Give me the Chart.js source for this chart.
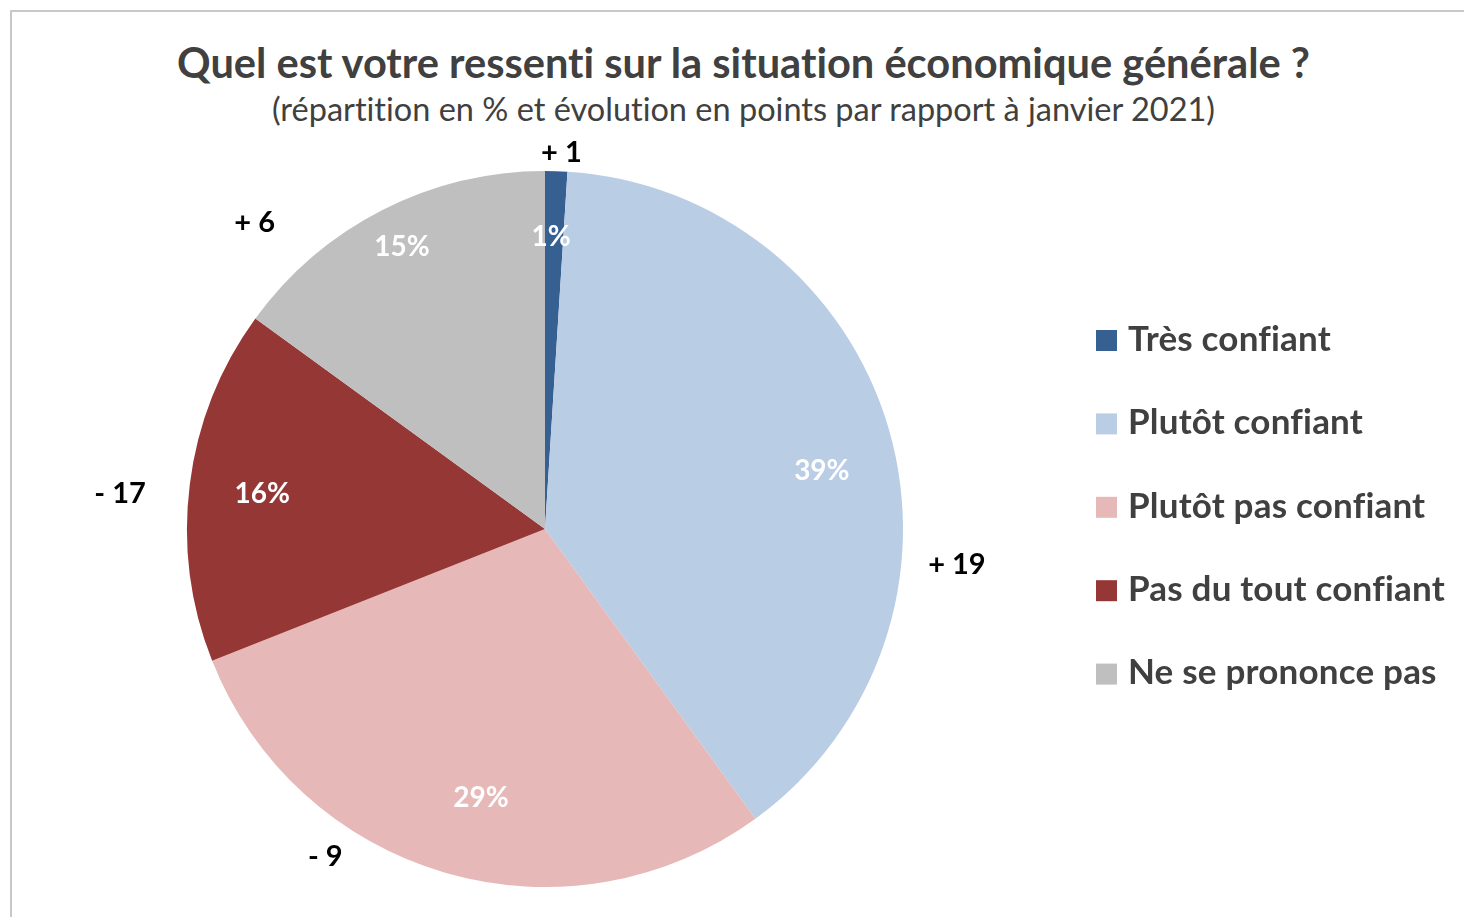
<!DOCTYPE html>
<html lang="fr">
<head>
<meta charset="utf-8">
<script src="https://cdn.jsdelivr.net/npm/chart.js@4.4.1/dist/chart.umd.min.js"></script>
<style>
  html, body { margin: 0; padding: 0; background: #fff; }
  body { width: 1464px; height: 917px; position: relative; overflow: hidden; font-family: Lato, 'Open Sans', sans-serif; }
  #frame { position: absolute; left: 10px; top: 10px; right: -4px; bottom: -4px; border-top: 2px solid #c8c8c8; border-left: 2px solid #c8c8c8; }
  .ttl { position: absolute; left: 0; width: 1487px; text-align: center; color: #404040; line-height: 1.2; white-space: nowrap; font-variant-ligatures: none; }
  #title { top: 38px; font-size: 41.6px; font-weight: 700; }
  #subtitle { top: 89px; font-size: 32.5px; font-weight: 400; }
  #wrap { position: absolute; left: 0; top: 0; width: 1464px; height: 917px; }
</style>
</head>
<body>
<div id="frame"></div>
<div class="ttl" id="title">Quel est votre ressenti sur la situation économique générale ?</div>
<div class="ttl" id="subtitle">(répartition en % et évolution en points par rapport à janvier 2021)</div>
<div id="wrap"><canvas id="pie"></canvas></div>
<script>
'use strict';

const categories  = ['Très confiant', 'Plutôt confiant', 'Plutôt pas confiant', 'Pas du tout confiant', 'Ne se prononce pas'];
const shares      = [1, 39, 29, 16, 15];          // % of answers
const changes     = [1, 19, -9, -17, 6];          // points vs janvier 2021
const sliceColors = ['#376092', '#b9cde5', '#e6b9b8', '#953735', '#bfbfbf'];

// label placement around each slice: [angle shift in degrees from slice middle, radius factor]
const pctPlace    = [[-0.6, 0.816], [4.4, 0.79], [-2.8, 0.771], [-0.2, 0.796], [0.1, 0.883]];
const changePlace = [[0.7, 1.051], [21.2, 1.155], [17.6, 1.103], [-2.5, 1.191], [-16.5, 1.178]];

const FONT = 'Lato, "Open Sans", sans-serif';
const fmtChange = v => (v >= 0 ? '+ ' : '- ') + Math.abs(v);

const pieLabels = {
    id: 'pieLabels',
    afterDatasetsDraw(chart) {
        const { ctx } = chart;
        const meta = chart.getDatasetMeta(0);
        ctx.save();
        ctx.textAlign = 'center';
        ctx.textBaseline = 'middle';
        meta.data.forEach((arc, i) => {
            const { x, y, startAngle, endAngle, outerRadius } =
                arc.getProps(['x', 'y', 'startAngle', 'endAngle', 'outerRadius'], true);
            const mid = (startAngle + endAngle) / 2;
            const at = ([dDeg, k]) => {
                const a = mid + dDeg * Math.PI / 180;
                return [x + Math.cos(a) * outerRadius * k, y + Math.sin(a) * outerRadius * k];
            };
            ctx.font = `700 28px ${FONT}`;
            ctx.fillStyle = '#ffffff';
            const [px, py] = at(pctPlace[i]);
            ctx.fillText(shares[i] + '%', px, py);

            ctx.font = `700 29px ${FONT}`;
            ctx.fillStyle = '#000000';
            const [cx, cy] = at(changePlace[i]);
            ctx.fillText(fmtChange(changes[i]), cx, cy);
        });
        ctx.restore();
    },
    afterDraw(chart) {
        // legend, right of the pie
        const { ctx } = chart;
        ctx.save();
        ctx.font = `700 35px ${FONT}`;
        ctx.letterSpacing = '0.2px';   // also keeps "fi" from turning into a ligature
        ctx.textBaseline = 'middle';
        ctx.textAlign = 'left';
        categories.forEach((name, i) => {
            const yc = 340.5 + i * 83.4;
            ctx.fillStyle = sliceColors[i];
            ctx.fillRect(1096, yc - 10.5, 21, 21);
            ctx.fillStyle = '#404040';
            ctx.fillText(name, 1128, yc - 1);
        });
        ctx.restore();
    },
};

new Chart(document.getElementById('pie'), {
    type: 'pie',
    data: {
        labels: categories,
        datasets: [{
            data: shares,
            backgroundColor: sliceColors,
            borderWidth: 0,
        }],
    },
    options: {
        responsive: true,
        maintainAspectRatio: false,
        animation: false,
        events: [],
        layout: { padding: { top: 171, bottom: 30, left: 187, right: 561 } },
        plugins: {
            legend: { display: false },
            tooltip: { enabled: false },
        },
    },
    plugins: [pieLabels],
});
</script>
</body>
</html>
